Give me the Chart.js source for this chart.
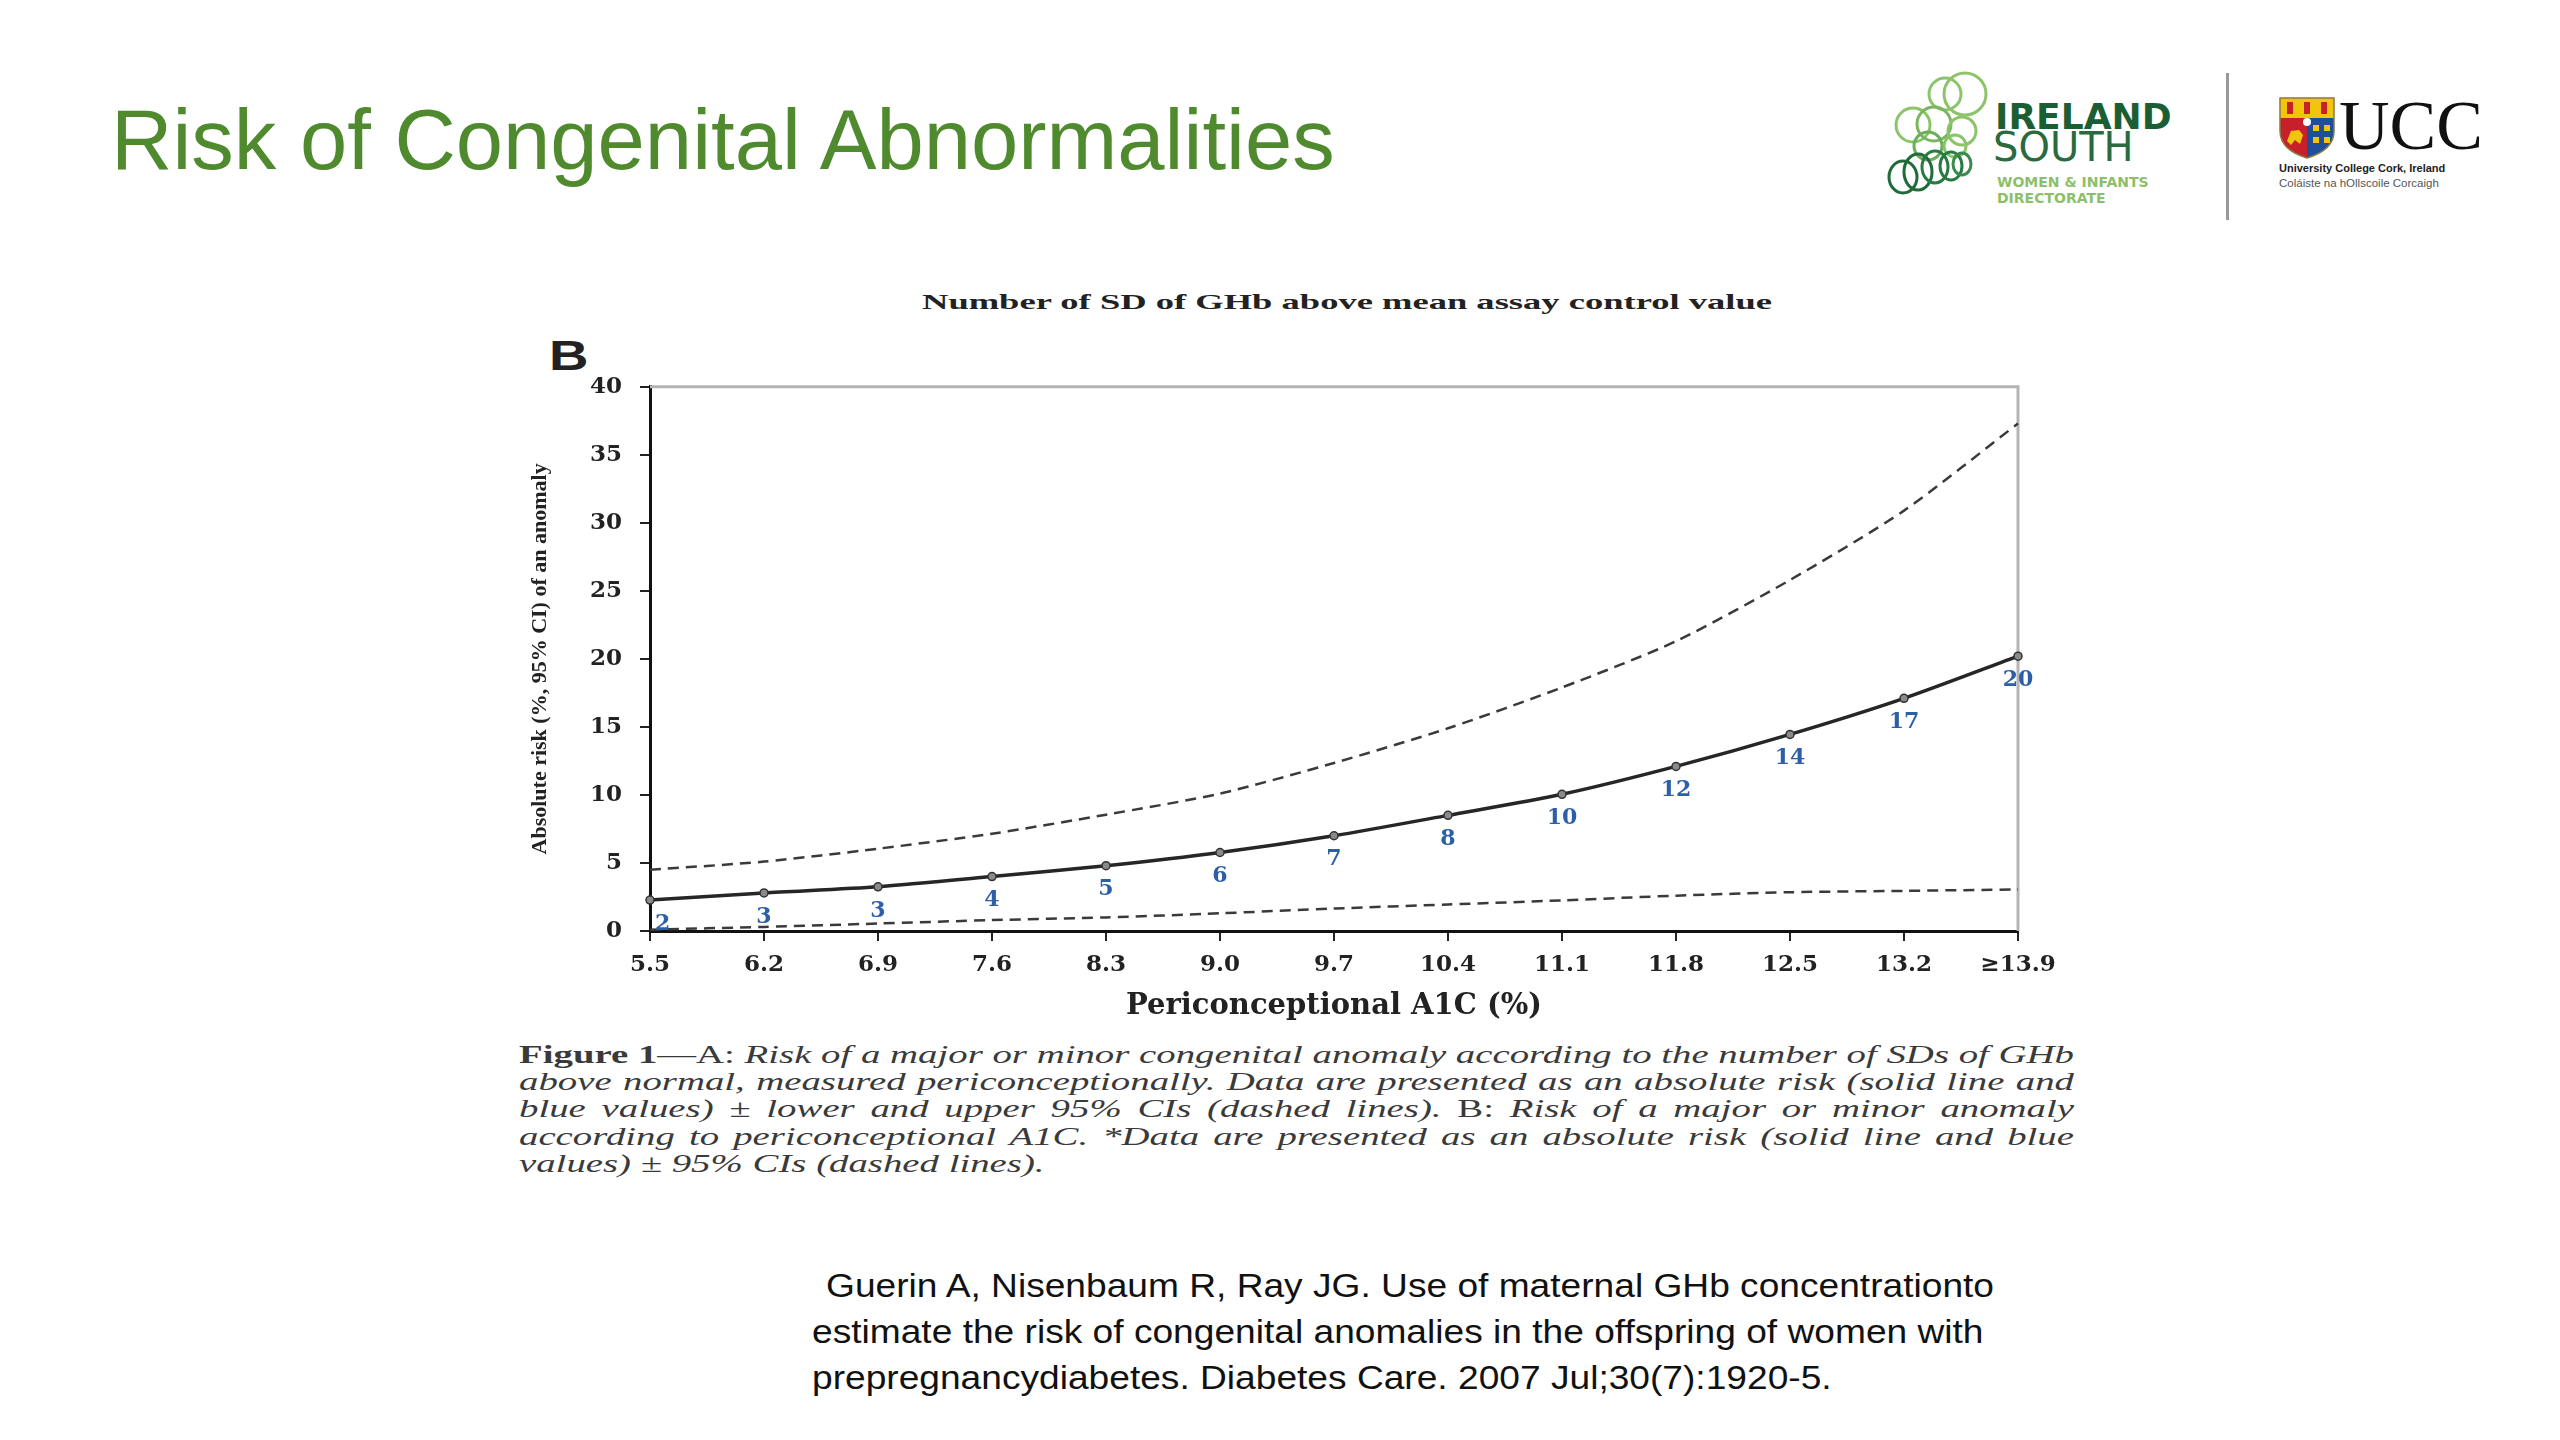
<!DOCTYPE html>
<html lang="en">
<head>
<meta charset="UTF-8">
<title>Risk of Congenital Abnormalities</title>
<script src="https://cdn.jsdelivr.net/npm/chart.js"></script>
<style>
  body {
    margin: 0;
    width: 2560px;
    height: 1440px;
    background: #ffffff;
    position: relative;
    overflow: hidden;
    font-family: 'Liberation Sans', Arial, sans-serif;
  }
  .abs { position: absolute; white-space: nowrap; transform-origin: left center; }
  #slideTitle { left: 111px; top: 97px; font-size: 85px; line-height: 85px; color: #4f8b2e; }
  #topTitle { left: 922px; top: 290px; font: bold 22px/24px 'Liberation Serif', serif; color: #222; }
  #panelB { left: 549px; top: 335px; font: bold 42px/42px 'Liberation Sans', sans-serif; color: #222; transform: scaleX(1.3); }
  #chartBox { position: absolute; left: 450px; top: 355px; width: 1620px; height: 685px; }
  .cap { left: 519px; font: italic 26px/28px 'Liberation Serif', serif; color: #3a3a3a; }
  .cap b, .cap .up { font-style: normal; }
  .cite { font-size: 33px; line-height: 40px; color: #111; }
  .logoTxt { position: absolute; white-space: nowrap; }
</style>
</head>
<body>
  <div id="slideTitle" class="abs">Risk of Congenital Abnormalities</div>

  <!-- logos -->
  <svg style="position:absolute;left:1880px;top:66px" width="115" height="135" viewBox="1880 66 115 135">
    <g fill="none" stroke-width="3">
      <circle cx="1965" cy="94" r="21" stroke="#8cc46a"/>
      <circle cx="1945" cy="94" r="16" stroke="#8cc46a"/>
      <circle cx="1913" cy="125" r="17" stroke="#8cc46a"/>
      <circle cx="1934" cy="124" r="17" stroke="#79b65f"/>
      <circle cx="1962" cy="131" r="14" stroke="#8cc46a"/>
      <circle cx="1928" cy="146" r="14" stroke="#6aae5c"/>
      <circle cx="1955" cy="146" r="11" stroke="#8cc46a"/>
      <ellipse cx="1903" cy="177" rx="14" ry="16" stroke="#1f6b3a"/>
      <ellipse cx="1918" cy="172" rx="14" ry="18" stroke="#1f6b3a"/>
      <ellipse cx="1935" cy="167" rx="13" ry="16" stroke="#2a7a44"/>
      <ellipse cx="1951" cy="166" rx="11" ry="14" stroke="#2a7a44"/>
      <ellipse cx="1962" cy="164" rx="9" ry="11" stroke="#3a8a4e"/>
    </g>
  </svg>
  <div class="logoTxt" style="left:1995px;top:99px;font:bold 36px/36px 'DejaVu Sans',sans-serif;color:#1c5e34">IRELAND</div>
  <div class="logoTxt" style="left:1993px;top:127px;font:40px/40px 'DejaVu Sans',sans-serif;color:#2a6a3e">SOUTH</div>
  <div class="logoTxt" style="left:1997px;top:175px;font:bold 14px/15px 'DejaVu Sans',sans-serif;color:#8dbf6a">WOMEN &amp; INFANTS</div>
  <div class="logoTxt" style="left:1997px;top:191px;font:bold 14px/15px 'DejaVu Sans',sans-serif;color:#8dbf6a">DIRECTORATE</div>
  <div style="position:absolute;left:2226px;top:73px;width:3px;height:147px;background:#9a9a9a"></div>
  <svg style="position:absolute;left:2279px;top:97px" width="56" height="62" viewBox="0 0 56 62">
    <defs><clipPath id="shield"><path d="M1 1 H55 V34 Q55 53 28 61 Q1 53 1 34 Z"/></clipPath></defs>
    <g clip-path="url(#shield)">
      <rect x="0" y="0" width="56" height="62" fill="#c8202a"/>
      <rect x="28" y="21" width="28" height="41" fill="#1f4e9a"/>
      <rect x="0" y="0" width="56" height="21" fill="#f2c40c"/>
      <rect x="8" y="5" width="6" height="12" fill="#c8202a"/>
      <rect x="25" y="5" width="6" height="12" fill="#c8202a"/>
      <rect x="42" y="5" width="6" height="12" fill="#c8202a"/>
      <path d="M8 44 L12 34 L20 33 L24 38 L21 47 L16 43 L12 48 Z" fill="#f2c40c"/>
      <rect x="34" y="28" width="6" height="6" fill="#f2c40c"/>
      <rect x="45" y="28" width="6" height="6" fill="#f2c40c"/>
      <rect x="34" y="40" width="6" height="6" fill="#f2c40c"/>
      <rect x="45" y="40" width="6" height="6" fill="#f2c40c"/>
      <circle cx="28" cy="25" r="4" fill="#ffffff"/>
    </g>
    <path d="M1 1 H55 V34 Q55 53 28 61 Q1 53 1 34 Z" fill="none" stroke="#8a7a40" stroke-width="1.5"/>
  </svg>
  <div class="logoTxt" style="left:2339px;top:91px;font:70px/70px 'Liberation Serif',serif;color:#111">UCC</div>
  <div class="logoTxt" style="left:2279px;top:162px;font:bold 11px/12px 'Liberation Sans',sans-serif;color:#222">University College Cork, Ireland</div>
  <div class="logoTxt" style="left:2279px;top:177px;font:11.5px/12px 'Liberation Sans',sans-serif;color:#555">Coláiste na hOllscoile Corcaigh</div>

  <div id="topTitle" class="abs">Number of SD of GHb above mean assay control value</div>
  <div id="panelB" class="abs">B</div>

  <div id="chartBox"><canvas id="riskChart"></canvas></div>

  <div class="abs cap" style="top:1041px"><b>Figure 1</b><span class="up">—A:</span> Risk of a major or minor congenital anomaly according to the number of SDs of GHb</div>
  <div class="abs cap" style="top:1068px">above normal, measured periconceptionally. Data are presented as an absolute risk (solid line and</div>
  <div class="abs cap" style="top:1095px">blue values) ± lower and upper 95% CIs (dashed lines). <span class="up">B:</span> Risk of a major or minor anomaly</div>
  <div class="abs cap" style="top:1123px">according to periconceptional A1C. *Data are presented as an absolute risk (solid line and blue</div>
  <div class="abs cap" style="top:1150px">values) ± 95% CIs (dashed lines).</div>

  <div class="abs cite" style="left:826px;top:1266px">Guerin A, Nisenbaum R, Ray JG. Use of maternal GHb concentrationto</div>
  <div class="abs cite" style="left:812px;top:1312px">estimate the risk of congenital anomalies in the offspring of women with</div>
  <div class="abs cite" style="left:812px;top:1358px">prepregnancydiabetes. Diabetes Care. 2007 Jul;30(7):1920-5.</div>

<script>
// data
const a1cLabels = ['5.5', '6.2', '6.9', '7.6', '8.3', '9.0', '9.7', '10.4', '11.1', '11.8', '12.5', '13.2', '≥13.9'];
const absoluteRisk = [2.27, 2.8, 3.25, 4.0, 4.8, 5.77, 7.0, 8.5, 10.05, 12.1, 14.45, 17.1, 20.2];
const upperCI = [4.5, 5.1, 6.05, 7.15, 8.55, 10.1, 12.35, 14.9, 17.9, 21.3, 25.8, 30.9, 37.3];
const lowerCI = [0.1, 0.3, 0.55, 0.8, 1.0, 1.3, 1.65, 1.95, 2.25, 2.6, 2.85, 2.95, 3.05];
const riskLabels = ['2', '3', '3', '4', '5', '6', '7', '8', '10', '12', '14', '17', '20'];
const yMin = 0, yMax = 40, yStep = 5;

// stretch text lines horizontally like the pasted figure
function fitLines(lines, target, justify) {
  const widths = lines.map(l => l.getBoundingClientRect().width);
  const f = target / Math.max(...widths);
  lines.forEach((l, i) => {
    if (justify && i < lines.length - 1) {
      const spaces = (l.textContent.match(/ /g) || []).length;
      l.style.wordSpacing = ((target / f - widths[i]) / spaces) + 'px';
    }
    l.style.transform = 'scaleX(' + f + ')';
  });
}
fitLines([...document.querySelectorAll('.cap')], 1555, true);
fitLines([document.getElementById('topTitle')], 850, false);
(function () {
  const cites = [...document.querySelectorAll('.cite')];
  const f = 1168 / cites[0].getBoundingClientRect().width;
  cites.forEach(c => c.style.transform = 'scaleX(' + f + ')');
})();

// light grey top and right frame of the plot
const framePlugin = {
  id: 'frame',
  beforeDatasetsDraw(chart) {
    const { ctx, chartArea: a } = chart;
    ctx.save();
    ctx.strokeStyle = '#b4b4b4';
    ctx.lineWidth = 3;
    ctx.beginPath();
    ctx.moveTo(a.left, a.top);
    ctx.lineTo(a.right, a.top);
    ctx.lineTo(a.right, a.bottom);
    ctx.stroke();
    ctx.restore();
  }
};

// blue values under the solid line
const riskLabelPlugin = {
  id: 'riskLabels',
  afterDatasetsDraw(chart) {
    const { ctx, chartArea } = chart;
    const meta = chart.getDatasetMeta(0);
    ctx.save();
    ctx.font = 'bold 22px "DejaVu Serif", serif';
    ctx.fillStyle = '#2d5fa8';
    ctx.textAlign = 'center';
    ctx.textBaseline = 'middle';
    meta.data.forEach((pt, i) => {
      const w = ctx.measureText(riskLabels[i]).width;
      let x = pt.x;
      if (x - w / 2 < chartArea.left + 5) x = chartArea.left + 5 + w / 2;
      ctx.fillText(riskLabels[i], x, pt.y + 24);
    });
    ctx.restore();
  }
};

const tickFont = { family: 'DejaVu Serif', weight: 'bold', size: 23 };

new Chart(document.getElementById('riskChart'), {
  type: 'line',
  data: {
    labels: a1cLabels,
    datasets: [
      {
        label: 'Absolute risk',
        data: absoluteRisk,
        borderColor: '#262626',
        borderWidth: 3.5,
        pointRadius: 4,
        pointBackgroundColor: '#8a8a8a',
        pointBorderColor: '#333333',
        pointBorderWidth: 1.5,
        tension: 0.25
      },
      {
        label: 'Upper 95% CI',
        data: upperCI,
        borderColor: '#3a3a3a',
        borderWidth: 2.5,
        borderDash: [11, 7],
        pointRadius: 0,
        tension: 0.25
      },
      {
        label: 'Lower 95% CI',
        data: lowerCI,
        borderColor: '#3a3a3a',
        borderWidth: 2.5,
        borderDash: [11, 7],
        pointRadius: 0,
        tension: 0.25
      }
    ]
  },
  options: {
    responsive: true,
    maintainAspectRatio: false,
    animation: false,
    devicePixelRatio: 1,
    layout: { padding: { top: 22, right: 52, left: 0, bottom: 0 } },
    plugins: { legend: { display: false }, tooltip: { enabled: false } },
    scales: {
      x: {
        offset: false,
        grid: { drawOnChartArea: false, drawTicks: true, tickLength: 10, color: '#222', lineWidth: 2 },
        border: { color: '#111', width: 3 },
        ticks: { font: tickFont, color: '#222', padding: 10, maxRotation: 0, autoSkip: false },
        title: {
          display: true,
          text: 'Periconceptional A1C (%)',
          font: { family: 'DejaVu Serif', weight: 'bold', size: 29 },
          color: '#222',
          padding: { top: 0, bottom: 16 }
        },
        afterFit: s => { s.height = 109; }
      },
      y: {
        min: yMin,
        max: yMax,
        grid: { drawOnChartArea: false, drawTicks: true, tickLength: 10, color: '#222', lineWidth: 2 },
        border: { color: '#111', width: 3 },
        ticks: { stepSize: yStep, font: tickFont, color: '#222', padding: 18 },
        title: {
          display: true,
          text: 'Absolute risk (%, 95% CI) of an anomaly',
          font: { family: 'Liberation Serif', weight: 'bold', size: 22 },
          color: '#222',
          padding: { top: 77, bottom: 0 }
        },
        afterFit: s => { s.width = 200; }
      }
    }
  },
  plugins: [framePlugin, riskLabelPlugin]
});
</script>
</body>
</html>
